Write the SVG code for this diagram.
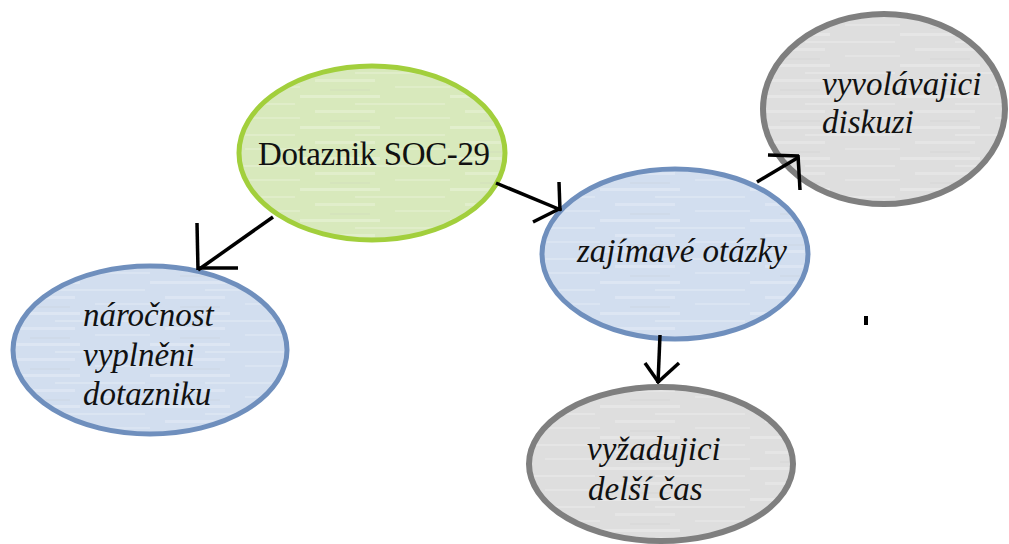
<svg xmlns="http://www.w3.org/2000/svg" width="1009" height="544" viewBox="0 0 1009 544">
  <defs>
    <!-- faint streaky paper texture laid over node fills -->
    <pattern id="streaks" width="150" height="31" patternUnits="userSpaceOnUse">
      <rect x="0" y="2" width="80" height="3" fill="#ffffff" opacity="0.25"/>
      <rect x="55" y="10" width="90" height="2" fill="#ffffff" opacity="0.2"/>
      <rect x="15" y="17" width="60" height="3" fill="#ffffff" opacity="0.22"/>
      <rect x="95" y="24" width="55" height="2" fill="#ffffff" opacity="0.18"/>
      <rect x="30" y="27" width="40" height="2" fill="#bfbfbf" opacity="0.12"/>
    </pattern>
    <style>
      .green { fill: #d8e9bc; stroke: #a2cf3c; stroke-width: 5; }
      .blue { fill: #d2deef; stroke: #6f8fbd; stroke-width: 5; }
      .grey { fill: #dedede; stroke: #7f7f7f; stroke-width: 6; }
      .tex { fill: url(#streaks); stroke: none; }
      .label { font-family: "Liberation Serif", "Times New Roman", serif; font-size: 33px; fill: #111111; }
      .it { font-style: italic; }
      .conn line { stroke: #000000; stroke-width: 3.5; stroke-linecap: butt; }
    </style>
  </defs>

  <rect width="1009" height="544" fill="#ffffff"/>

  <g id="node-dotaznik">
    <ellipse class="green" cx="372" cy="153" rx="133" ry="87"/>
    <ellipse class="tex" cx="372" cy="153" rx="130" ry="84"/>
    <text class="label" x="258" y="165" textLength="232">Dotaznik SOC-29</text>
  </g>

  <g id="node-narocnost">
    <ellipse class="blue" cx="150" cy="350" rx="137" ry="84"/>
    <ellipse class="tex" cx="150" cy="350" rx="134" ry="81"/>
    <text class="label it" x="83" y="326">náročnost</text>
    <text class="label it" x="83" y="366">vyplněni</text>
    <text class="label it" x="83" y="405">dotazniku</text>
  </g>

  <g id="node-zajimave">
    <ellipse class="blue" cx="675" cy="254" rx="133" ry="85"/>
    <ellipse class="tex" cx="675" cy="254" rx="130" ry="82"/>
    <text class="label it" x="577" y="262">zajímavé otázky</text>
  </g>

  <g id="node-vyvolavajici">
    <ellipse class="grey" cx="884" cy="109" rx="121" ry="95"/>
    <ellipse class="tex" cx="884" cy="109" rx="118" ry="92"/>
    <text class="label it" x="822" y="95">vyvolávajici</text>
    <text class="label it" x="822" y="133">diskuzi</text>
  </g>

  <g id="node-vyzadujici">
    <ellipse class="grey" cx="661" cy="464" rx="132" ry="77"/>
    <ellipse class="tex" cx="661" cy="464" rx="129" ry="74"/>
    <text class="label it" x="587" y="460">vyžadujici</text>
    <text class="label it" x="588" y="500">delší čas</text>
  </g>

  <!-- hand-drawn arrows -->
  <g id="connectors" class="conn">
    <line x1="273" y1="217" x2="198" y2="270"/>
    <line x1="197" y1="223" x2="198" y2="270"/>
    <line x1="198" y1="268" x2="238" y2="268"/>

    <line x1="496" y1="183" x2="561" y2="210"/>
    <line x1="559" y1="182" x2="560" y2="211"/>
    <line x1="533" y1="222" x2="561" y2="208"/>

    <line x1="757" y1="182" x2="799" y2="157"/>
    <line x1="768" y1="155" x2="799" y2="156"/>
    <line x1="798" y1="155" x2="800" y2="190"/>

    <line x1="660" y1="335" x2="658" y2="383"/>
    <line x1="645" y1="363" x2="659" y2="383"/>
    <line x1="679" y1="363" x2="657" y2="383"/>
  </g>

  <rect x="864" y="316" width="4" height="9" fill="#000000"/>
</svg>
